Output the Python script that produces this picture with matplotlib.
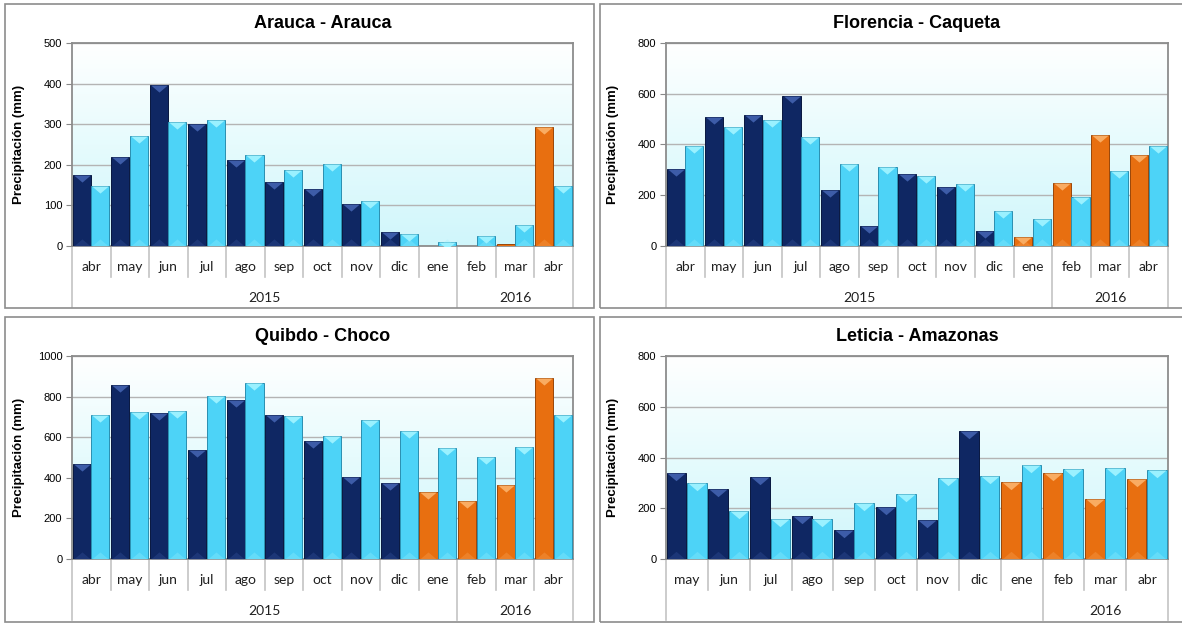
import numpy as np
import matplotlib
matplotlib.use("Agg")
import matplotlib.pyplot as plt
from matplotlib.path import Path
from matplotlib.patches import Rectangle
from matplotlib.lines import Line2D
import matplotlib.transforms as mtransforms

plt.rcParams['font.family'] = ['Liberation Sans', 'DejaVu Sans']

# ---- data -------------------------------------------------------------
months_a = ['abr', 'may', 'jun', 'jul', 'ago', 'sep', 'oct', 'nov', 'dic',
            'ene', 'feb', 'mar', 'abr']
months_b = ['may', 'jun', 'jul', 'ago', 'sep', 'oct', 'nov', 'dic',
            'ene', 'feb', 'mar', 'abr']

arauca_obs = [176, 218, 397, 301, 211, 158, 140, 103, 35, 0, 0, 4, 293]
arauca_mean = [148, 270, 306, 311, 225, 187, 201, 110, 30, 11, 24, 51, 148]

florencia_obs = [303, 508, 515, 591, 219, 77, 285, 231, 58, 34, 248, 437, 358]
florencia_mean = [393, 470, 497, 428, 324, 313, 277, 245, 136, 105, 193, 295, 393]

quibdo_obs = [466, 858, 718, 537, 781, 710, 579, 404, 372, 331, 286, 365, 892]
quibdo_mean = [707, 723, 728, 805, 869, 702, 607, 684, 633, 545, 502, 552, 707]

leticia_obs = [339, 277, 322, 170, 113, 205, 154, 505, 304, 338, 236, 314]
leticia_mean = [298, 191, 158, 157, 221, 258, 318, 327, 369, 355, 359, 349]

# first month of 2016 (orange bars) and where the year row splits
first_2016_a = 9
first_2016_b = 8
year_split_a = 10
year_split_b = 9

panels = [
    ('Arauca - Arauca', months_a, arauca_obs, arauca_mean, 500, 100,
     first_2016_a, year_split_a, ['2015', '2016']),
    ('Florencia - Caqueta', months_a, florencia_obs, florencia_mean, 800, 200,
     first_2016_a, year_split_a, ['2015', '2016']),
    ('Quibdo - Choco', months_a, quibdo_obs, quibdo_mean, 1000, 200,
     first_2016_a, year_split_a, ['2015', '2016']),
    ('Leticia - Amazonas', months_b, leticia_obs, leticia_mean, 800, 200,
     first_2016_b, year_split_b, ['', '2016']),
]

# ---- style ------------------------------------------------------------
NAVY, NAVY_HI, NAVY_ED = '#0f2763', '#3d5ca8', '#08173f'
CYAN, CYAN_HI, CYAN_ED = '#4dd3f7', '#9af1ff', '#2a8fb0'
ORNG, ORNG_HI, ORNG_ED = '#e86f10', '#f9ac62', '#9a4608'
CAT_FONT = ['Lato', 'DejaVu Sans']

W, H = 1182, 624
fig = plt.figure(figsize=(W / 100, H / 100), dpi=100)

# outer panel frames (pixels)
frames = [(5, 4, 594, 308), (600, 4, 1190, 308),
          (5, 317, 594, 622), (600, 317, 1190, 622)]
for x0, y0, x1, y1 in frames:
    fig.patches.append(Rectangle((x0 / W, 1 - y1 / H), (x1 - x0) / W, (y1 - y0) / H,
                                 transform=fig.transFigure, fill=False,
                                 edgecolor='#8c8c8c', linewidth=1.2))

# plot areas (pixels: left, right, top, bottom)
areas = [(72, 573, 43, 246), (666, 1168, 43, 246),
         (72, 573, 356, 559), (666, 1168, 356, 559)]

tri_top = Path([(-1, 0), (1, 0), (0, -0.85), (-1, 0)],
               [Path.MOVETO, Path.LINETO, Path.LINETO, Path.CLOSEPOLY])
tri_bot = Path([(-1, 0), (1, 0), (0, 0.85), (-1, 0)],
               [Path.MOVETO, Path.LINETO, Path.LINETO, Path.CLOSEPOLY])

grad = np.linspace(0, 1, 256).reshape(-1, 1)
bg_cmap = matplotlib.colors.LinearSegmentedColormap.from_list(
    'bg', ['#d0f6fb', '#e6fbfd', '#ffffff'])

for (title, months, obs, mean, ymax, ystep, f16, split, years), (l, r, t, b) in zip(panels, areas):
    ax = fig.add_axes([l / W, 1 - b / H, (r - l) / W, (b - t) / H])
    n = len(months)
    x = np.arange(n)

    ax.imshow(grad, extent=[-0.5, n - 0.5, 0, ymax], origin='lower',
              cmap=bg_cmap, aspect='auto', zorder=0)

    obs_c = [NAVY if i < f16 else ORNG for i in range(n)]
    obs_hi = [NAVY_HI if i < f16 else ORNG_HI for i in range(n)]
    obs_ed = [NAVY_ED if i < f16 else ORNG_ED for i in range(n)]
    obs_lw = [0.7 if v > 0 else 0 for v in obs]
    mean_lw = [0.7 if v > 0 else 0 for v in mean]

    bw = 0.47
    xo = x - 0.25
    xm = x + 0.235
    ax.bar(xo, obs, width=bw, color=obs_c, edgecolor=obs_ed, linewidth=obs_lw, zorder=3)
    ax.bar(xm, mean, width=bw, color=CYAN, edgecolor=CYAN_ED, linewidth=mean_lw, zorder=3)

    # bevel highlights at top and bottom of each bar
    msize = bw * (r - l) / n * 0.72 * 0.92
    for i in range(n):
        if obs[i] > 6:
            ax.plot([xo[i]], [obs[i]], marker=tri_top, markersize=msize,
                    color=obs_hi[i], markeredgewidth=0, linestyle='none', zorder=4)
            ax.plot([xo[i]], [0], marker=tri_bot, markersize=msize,
                    color=obs_hi[i], alpha=0.3, markeredgewidth=0,
                    linestyle='none', zorder=4)
        if mean[i] > 6:
            ax.plot([xm[i]], [mean[i]], marker=tri_top, markersize=msize,
                    color=CYAN_HI, markeredgewidth=0, linestyle='none', zorder=4)
            ax.plot([xm[i]], [0], marker=tri_bot, markersize=msize,
                    color=CYAN_HI, alpha=0.3, markeredgewidth=0,
                    linestyle='none', zorder=4)

    ax.set_xlim(-0.5, n - 0.5)
    ax.set_ylim(0, ymax)
    ax.set_yticks(np.arange(0, ymax + 1, ystep))
    ax.yaxis.grid(True, color='#b4b4b4', linewidth=1.0, zorder=1)
    ax.set_axisbelow(True)
    ax.set_xticks([])
    ax.tick_params(axis='y', labelsize=8, length=4, color='#888888', pad=3)
    for sp in ax.spines.values():
        sp.set_color('#8c8c8c')
        sp.set_linewidth(1.3)
    ax.set_ylabel('Precipitación (mm)', fontsize=9.5, fontweight='bold')
    ax.yaxis.set_label_coords(-47 / (r - l), 0.5)
    ax.set_title(title, fontsize=13, fontweight='bold', pad=11)

    # category axis: months and years
    tr = mtransforms.blended_transform_factory(ax.transData, ax.transAxes)
    ah = b - t
    for i, m in enumerate(months):
        ax.text(i, -21 / ah, m, transform=tr, ha='center', va='center',
                fontsize=10, family=CAT_FONT, color='#202020')
    for k in range(n + 1):
        xb = k - 0.5
        full = k in (0, split, n)
        y_end = -61 / ah if full else -31 / ah
        ax.add_line(Line2D([xb, xb], [0, y_end], transform=tr, color='#c4c4c4',
                           linewidth=1.2, clip_on=False))
    ax.text((split - 1) / 2, -52 / ah, years[0], transform=tr, ha='center',
            va='center', fontsize=10, family=CAT_FONT, color='#202020')
    ax.text((split + n - 1) / 2, -52 / ah, years[1], transform=tr, ha='center',
            va='center', fontsize=10, family=CAT_FONT, color='#202020')

fig.savefig('out.png', dpi=100)
